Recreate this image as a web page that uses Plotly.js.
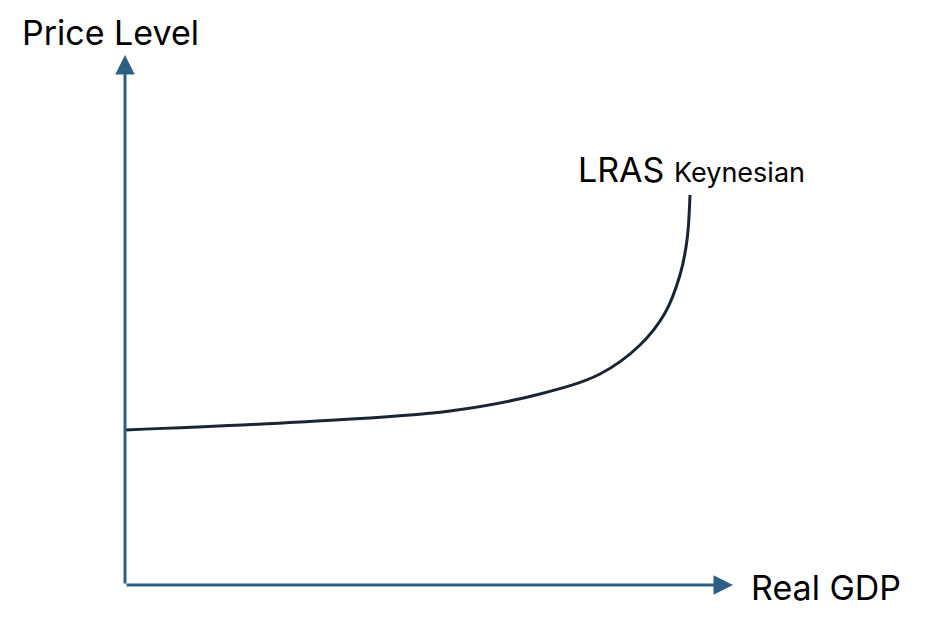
<!DOCTYPE html>
<html>
<head>
<meta charset="utf-8">
<script src="https://cdn.plot.ly/plotly-3.0.1.min.js"></script>
<style>html,body{margin:0;padding:0;background:#fff;}#chart{width:938px;height:640px;}</style>
</head>
<body>
<div id="chart"></div>
<script>
// LRAS (Keynesian) curve: Real GDP (x) vs Price Level (y), schematic units
const realGDP = [0, 175, 325, 415, 475, 515, 540, 555, 562, 565];
const priceLevel = [155, 163, 174, 191, 211, 240, 272, 310, 345, 390];
const xAxisEnd = 608;
const yAxisEnd = 530;
const xLabel = "Real GDP";
const yLabel = "Price Level";
const curveLabel = "LRAS";
const curveSub = "Keynesian";

const axisColor = "#2c5f83";
const font = "Inter, 'Open Sans', sans-serif";

const trace = {
  x: realGDP, y: priceLevel, type: "scatter", mode: "lines",
  line: {color: "#1a2533", width: 3, shape: "spline", smoothing: 1},
  hoverinfo: "skip", showlegend: false
};

const layout = {
  width: 938, height: 640,
  margin: {l: 0, r: 0, t: 0, b: 0},
  paper_bgcolor: "#fff", plot_bgcolor: "#fff",
  xaxis: {range: [-125, 813], visible: false, fixedrange: true},
  yaxis: {range: [-55, 585], visible: false, fixedrange: true},
  showlegend: false,
  annotations: [
    {x: xAxisEnd, y: 0, ax: 0, ay: 0, axref: "x", ayref: "y", xref: "x", yref: "y",
     showarrow: true, arrowhead: 2, arrowsize: 1.3, arrowwidth: 3, arrowcolor: axisColor, text: "", standoff: 0, startstandoff: 0},
    {x: 0, y: yAxisEnd, ax: 0, ay: 0, axref: "x", ayref: "y", xref: "x", yref: "y",
     showarrow: true, arrowhead: 2, arrowsize: 1.3, arrowwidth: 3, arrowcolor: axisColor, text: "", standoff: 0, startstandoff: 0},
    {x: -15, y: 553, xref: "x", yref: "y", showarrow: false, text: yLabel,
     font: {family: font, size: 34, color: "#000"}, xanchor: "center", yanchor: "middle"},
    {x: 701, y: -2, xref: "x", yref: "y", showarrow: false, text: xLabel,
     font: {family: font, size: 34, color: "#000"}, xanchor: "center", yanchor: "middle"},
    {x: 451, y: 416, xref: "x", yref: "y", showarrow: false,
     text: curveLabel + " <span style='font-size:27px'>" + curveSub + "</span>",
     font: {family: font, size: 34, color: "#000"}, xanchor: "left", yanchor: "middle"}
  ]
};

Plotly.newPlot("chart", [trace], layout, {displayModeBar: false, staticPlot: true});
</script>
</body>
</html>
